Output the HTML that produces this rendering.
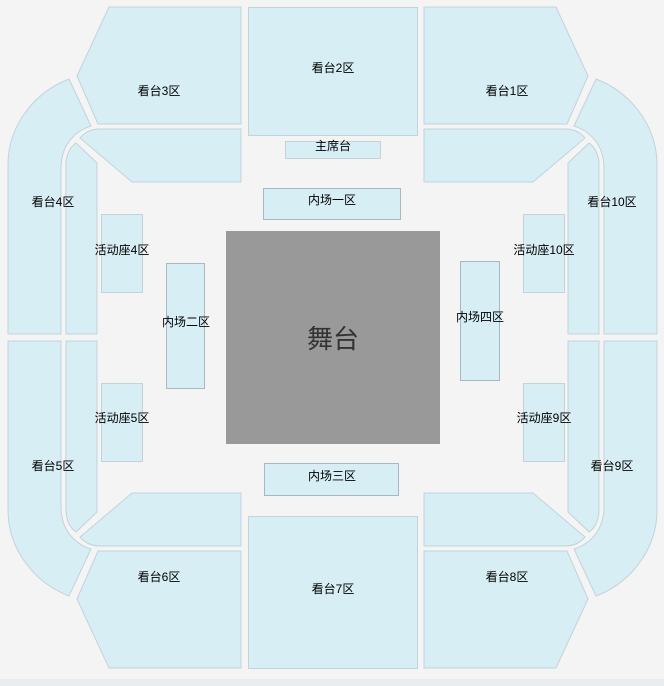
<!DOCTYPE html>
<html><head><meta charset="utf-8"><style>
html,body{margin:0;padding:0;background:#f4f4f4;}
svg{display:block}
text{font-family:"Liberation Sans","Noto Sans CJK SC",sans-serif;font-size:12px;fill:#000;text-anchor:middle;dominant-baseline:central}
.s{fill:#d6eef4;stroke:#c2d3da;stroke-width:1}
.d{fill:#d6eef4;stroke:#a9b8c0;stroke-width:1}
</style></head><body>
<svg width="664" height="686" viewBox="0 0 664 686" xmlns="http://www.w3.org/2000/svg">
<rect x="0" y="0" width="664" height="686" fill="#f4f4f4"/>
<rect x="0" y="679" width="664" height="7" fill="#e9edf0"/>
<defs>
<g id="q">
<path class="s" d="M109,7 L241,7 L241,124 L98,124 L77,76 Z"/>
<path class="s" d="M8,334 L8,165 C8,125 35,92 69,79 L91,126 C72,132 61,148 61,168 L61,334 Z"/>
<path class="s" d="M66,334 L66,165 C66,155 70,147 76,143 L97,163 L97,334 Z"/>
<path class="s" d="M80,138 C85,132 92,129 100,129 L241,129 L241,182 L132,182 Z"/>
</g>
</defs>
<use href="#q"/>
<use href="#q" transform="translate(665,0) scale(-1,1)"/>
<use href="#q" transform="translate(0,675) scale(1,-1)"/>
<use href="#q" transform="translate(665,675) scale(-1,-1)"/>
<rect class="s" x="248.5" y="7.5" width="169" height="128"/>
<rect class="s" x="248.5" y="516.5" width="169" height="152"/>
<rect class="s" x="285.5" y="141.5" width="95" height="17"/>
<rect class="d" x="263.5" y="188.5" width="137" height="31"/>
<rect class="d" x="264.5" y="463.5" width="134" height="32"/>
<rect class="d" x="166.5" y="263.5" width="38" height="125"/>
<rect class="d" x="460.5" y="261.5" width="39" height="119"/>
<rect class="s" x="101.5" y="214.5" width="41" height="78"/>
<rect class="s" x="101.5" y="383.5" width="41" height="78"/>
<rect class="s" x="523.5" y="214.5" width="41" height="78"/>
<rect class="s" x="523.5" y="383.5" width="41" height="78"/>
<rect x="226" y="231" width="214" height="213" fill="#999999"/>
<text x="333" y="339" style="font-size:26px;fill:#333">舞台</text>
<text x="333" y="68">看台2区</text>
<text x="159" y="91">看台3区</text>
<text x="507" y="91">看台1区</text>
<text x="53" y="202">看台4区</text>
<text x="612" y="202">看台10区</text>
<text x="53" y="466">看台5区</text>
<text x="612" y="466">看台9区</text>
<text x="159" y="577">看台6区</text>
<text x="507" y="577">看台8区</text>
<text x="333" y="589">看台7区</text>
<text x="333" y="146">主席台</text>
<text x="332" y="200">内场一区</text>
<text x="332" y="476">内场三区</text>
<text x="186" y="322">内场二区</text>
<text x="480" y="317">内场四区</text>
<text x="122" y="250">活动座4区</text>
<text x="122" y="418">活动座5区</text>
<text x="544" y="250">活动座10区</text>
<text x="544" y="418">活动座9区</text>
</svg>
</body></html>
